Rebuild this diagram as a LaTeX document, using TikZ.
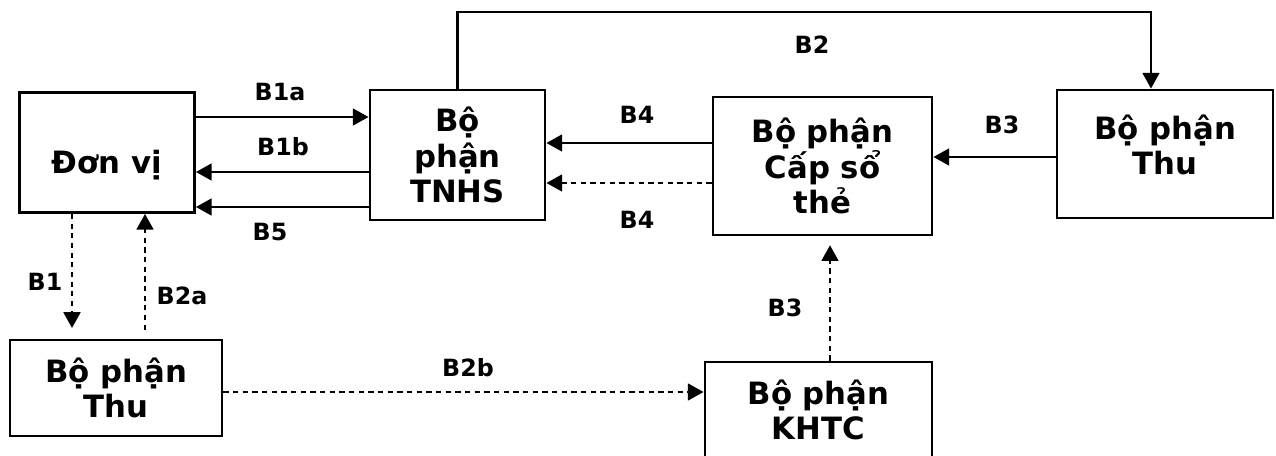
\documentclass[tikz,border=0pt]{standalone}
\usepackage{fontspec}
\setmainfont{DejaVu Sans}
\usetikzlibrary{arrows.meta,positioning}

\begin{document}
\begin{tikzpicture}[x=0.02cm, y=-0.02cm, >={Triangle[length=9pt,width=9.5pt]},
    box/.style={rectangle, draw=black, line width=1.6pt, align=center, inner sep=0pt, font=\fontsize{17.5}{20}\selectfont\bfseries},
    lbl/.style={font=\fontsize{13.5}{16}\selectfont\bfseries, inner sep=0pt},
    arrow/.style={->, line width=1.6pt},
    darrow/.style={->, line width=1.6pt, dash pattern=on 3pt off 2.5pt}]

    \useasboundingbox (0,0) rectangle (1276,456);

    \node [box, minimum width=3.5cm, minimum height=2.4cm] at (107,152.5) (donvi) {\raisebox{-7pt}[\height][\depth]{Đơn vị}};
    \node [box, minimum width=3.5cm, minimum height=2.6cm] at (457.5,155) (tnhs) {Bộ\\phận\\TNHS};
    \node [box, minimum width=4.38cm, minimum height=2.76cm] at (822.5,166) (capso) {Bộ phận\\Cấp sổ\\thẻ};
    \node [box, minimum width=4.32cm, minimum height=2.56cm, text depth=11pt] at (1165,154) (thur) {Bộ phận\\Thu};
    \node [box, minimum width=4.24cm, minimum height=1.92cm] at (116,388) (thul) {Bộ phận\\Thu};
    \node [box, minimum width=4.54cm, minimum height=1.92cm] at (818.5,410) (khtc) {Bộ phận\\KHTC};

    \draw [arrow] (donvi.east |- 0,117) -- (tnhs.west |- 0,117);
    \draw [arrow] (tnhs.west |- 0,172) -- (donvi.east |- 0,172);
    \draw [arrow] (tnhs.west |- 0,207) -- (donvi.east |- 0,207);
    \draw [arrow] (tnhs.north) |- (1151,12) -- (thur.north -| 1151,12);
    \draw [arrow] (capso.west |- 0,143) -- (tnhs.east |- 0,143);
    \draw [darrow] (capso.west |- 0,183) -- (tnhs.east |- 0,183);
    \draw [arrow] (thur.west |- 0,157) -- (capso.east |- 0,157);
    \draw [darrow, shorten >=6pt] (donvi.south -| 72,0) -- (thul.north -| 72,0);
    \draw [darrow, shorten <=5pt] (thul.north -| 145,0) -- (donvi.south -| 145,0);
    \draw [darrow] (thul.east |- 0,392) -- (khtc.west |- 0,392);
    \draw [darrow, shorten >=5pt] (khtc.north -| 830,0) -- (capso.south -| 830,0);

    \node [lbl] at (280,92) (b1a) {B1a};
    \node [lbl] at (283,147) (b1b) {B1b};
    \node [lbl] at (270,232) (b5) {B5};
    \node [lbl] at (812,45) (b2) {B2};
    \node [lbl] at (637,115) (b4top) {B4};
    \node [lbl] at (637,220) (b4bot) {B4};
    \node [lbl] at (1002,125) (b3top) {B3};
    \node [lbl] at (45,282) (b1) {B1};
    \node [lbl] at (182,296) (b2a) {B2a};
    \node [lbl] at (468,368) (b2b) {B2b};
    \node [lbl] at (785,308) (b3bot) {B3};
\end{tikzpicture}
\end{document}
